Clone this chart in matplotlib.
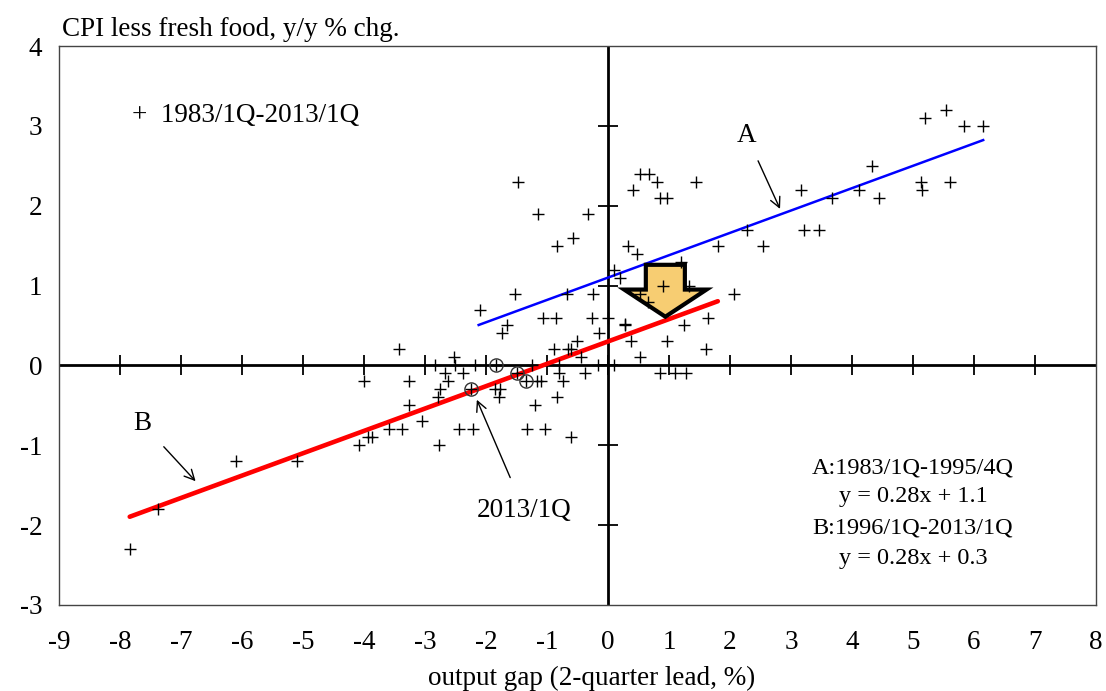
import numpy as np
import matplotlib
matplotlib.use("Agg")
import matplotlib.pyplot as plt
from matplotlib.patches import FancyArrow

plt.rcParams['font.family'] = ['Liberation Serif', 'DejaVu Serif']
plt.rcParams['axes.unicode_minus'] = False

# output gap (x) vs CPI less fresh food (y), 1983/1Q-2013/1Q
gap = [5.19, 5.54, 5.84, 6.15, 4.32, 3.17, 3.67, 4.12, 4.44, 5.13, 5.14, 5.61,
       2.28, 1.80, 2.54, 3.22, 3.46,
       0.53, 0.68, 0.80, 1.45, 0.41, 0.86, 0.97, 0.33, 0.48, 1.19, 0.10, 0.19,
       0.90, 1.33, 0.53, 0.66, 2.06, 0.28, 0.28, 1.24, 1.64, 0.37, 0.96, 0.52,
       1.61, 0.85, 1.10, 1.28, 0.10,
       -1.47, -1.15, -0.32, -0.57, -0.84, -1.52, -0.68, -0.25, -2.10, -1.06,
       -0.85, -0.27, 0.00, -1.66, -1.73, -0.14, -0.50, -0.88, -0.66, -0.61,
       -0.44, -3.42, -2.52,
       -2.84, -2.50, -2.18, -1.24, -0.80, -0.16,
       -2.67, -2.62, -2.37, -4.00, -3.26, -2.75, -2.78, -3.26, -3.05, -3.59,
       -3.38, -3.94, -3.87, -4.08, -2.77, -2.45, -2.21, -1.85, -1.77, -1.78,
       -1.17, -1.10, -1.20, -1.33, -1.03, -0.83, -0.73, -0.81, -0.38, -0.60,
       -6.10, -5.10, -7.38, -7.84,
       -1.83, -1.49, -1.34, -2.24]
cpi = [3.1, 3.2, 3.0, 3.0, 2.5, 2.2, 2.1, 2.2, 2.1, 2.3, 2.2, 2.3,
       1.7, 1.5, 1.5, 1.7, 1.7,
       2.4, 2.4, 2.3, 2.3, 2.2, 2.1, 2.1, 1.5, 1.4, 1.3, 1.2, 1.1,
       1.0, 1.0, 0.9, 0.8, 0.9, 0.5, 0.52, 0.5, 0.6, 0.3, 0.3, 0.1,
       0.2, -0.1, -0.1, -0.1, 0.0,
       2.3, 1.9, 1.9, 1.6, 1.5, 0.9, 0.9, 0.9, 0.7, 0.6,
       0.6, 0.6, 0.6, 0.5, 0.4, 0.4, 0.3, 0.2, 0.2, 0.2,
       0.1, 0.2, 0.1,
       0.0, 0.0, 0.0, 0.0, 0.0, 0.0,
       -0.1, -0.2, -0.1, -0.2, -0.2, -0.3, -0.4, -0.5, -0.7, -0.8,
       -0.8, -0.9, -0.9, -1.0, -1.0, -0.8, -0.8, -0.3, -0.3, -0.4,
       -0.2, -0.2, -0.5, -0.8, -0.8, -0.4, -0.2, -0.1, -0.1, -0.9,
       -1.2, -1.2, -1.8, -2.3,
       0.0, -0.1, -0.2, -0.3]

# recent quarters marked with circles
recent_gap = [-1.83, -1.49, -1.34, -2.24]
recent_cpi = [0.0, -0.1, -0.2, -0.3]

# regression lines
slope_a, icpt_a = 0.28, 1.1
range_a = [-2.12, 6.15]
slope_b, icpt_b = 0.28, 0.3
range_b = [-7.84, 1.80]

xticks = list(range(-9, 9))
yticks = list(range(-3, 5))

FS = 19.5

fig = plt.figure(figsize=(11.06, 6.91), dpi=100)
ax = fig.add_axes([0.0533, 0.1245, 0.9377, 0.8089])
ax.set_xlim(-9, 8)
ax.set_ylim(-3, 4)

# axes through the origin with crossing ticks
ax.axhline(0, color='black', lw=2.0, zorder=2)
ax.axvline(0, color='black', lw=2.0, zorder=2)
ax.plot(xticks[1:-1], np.zeros(len(xticks) - 2), ls='none', marker='|',
        ms=15, mew=1.3, color='black', zorder=2)
ax.plot(np.zeros(len(yticks) - 2), yticks[1:-1], ls='none', marker='_',
        ms=15, mew=1.3, color='black', zorder=2)

xa = np.array(range_a)
xb = np.array(range_b)
ax.plot(xa, slope_a * xa + icpt_a, color='#0000ff', lw=1.8, zorder=3)
ax.plot(xb, slope_b * xb + icpt_b, color='#ff0000', lw=3.3, zorder=3,
        solid_capstyle='round')

# big down arrow (shift of the curve)
ax.add_patch(FancyArrow(0.94, 1.26, 0, -0.65, width=0.64, head_width=1.35,
                        head_length=0.34, length_includes_head=True,
                        facecolor='#f7cd72', edgecolor='black', lw=3.0,
                        zorder=4))

ax.plot(gap, cpi, ls='none', marker='+', ms=9, mew=1.0, color='black',
        zorder=5)
ax.plot(recent_gap, recent_cpi, ls='none', marker='o', ms=9.5, mfc='none',
        mec='#333333', mew=1.0, zorder=5)

for s in ax.spines.values():
    s.set_color('#444444')
    s.set_linewidth(1.0)
ax.set_xticks(xticks)
ax.set_yticks(yticks)
ax.tick_params(length=0, labelsize=FS, pad=12)
ax.tick_params(axis='x', pad=18)

ax.text(0.003, 1.008, 'CPI less fresh food, y/y % chg.', transform=ax.transAxes,
        fontsize=FS, ha='left', va='bottom')
fig.text(0.535, 0.0, 'output gap (2-quarter lead, %)', fontsize=FS,
         ha='center', va='bottom')

ax.text(-7.8, 3.13, '+  1983/1Q-2013/1Q', fontsize=FS, va='center')

ax.annotate('A', xy=(2.82, 1.96), xytext=(2.27, 2.88), fontsize=FS,
            ha='center', va='center',
            arrowprops=dict(arrowstyle='->', lw=1.0, color='black',
                            shrinkA=8, shrinkB=0, mutation_scale=18))
ax.annotate('B', xy=(-6.76, -1.45), xytext=(-7.63, -0.73), fontsize=FS,
            ha='center', va='center',
            arrowprops=dict(arrowstyle='->', lw=1.0, color='black',
                            shrinkA=10, shrinkB=0, mutation_scale=18))
ax.annotate('2013/1Q', xy=(-2.15, -0.43), xytext=(-1.37, -1.82), fontsize=FS,
            ha='center', va='center',
            arrowprops=dict(arrowstyle='->', lw=1.0, color='black',
                            shrinkA=14, shrinkB=0, mutation_scale=18))

FS2 = 17.5
ax.text(5.0, -1.28, 'A:1983/1Q-1995/4Q', fontsize=FS2, ha='center', va='center')
ax.text(5.0, -1.64, 'y = 0.28x + 1.1', fontsize=FS2, ha='center', va='center')
ax.text(5.0, -2.03, 'B:1996/1Q-2013/1Q', fontsize=FS2, ha='center', va='center')
ax.text(5.0, -2.42, 'y = 0.28x + 0.3', fontsize=FS2, ha='center', va='center')

fig.savefig('out.png', dpi=100)
